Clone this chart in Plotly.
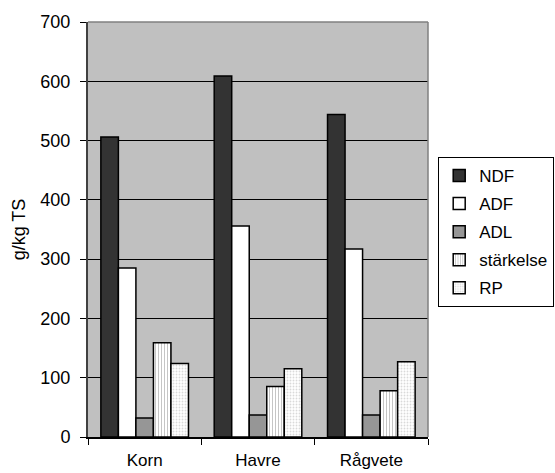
import plotly.graph_objects as go

categories = ["Korn", "Havre", "Rågvete"]
series_names = ["NDF", "ADF", "ADL", "stärkelse", "RP"]
ndf = [506, 609, 544]
adf = [285, 356, 317]
adl = [32, 37, 37]
starkelse = [159, 85, 78]
rp = [124, 115, 127]
y_ticks = [0, 100, 200, 300, 400, 500, 600, 700]

values = [ndf, adf, adl, starkelse, rp]
fills = ["#333333", "#ffffff", "#969696", "#ffffff", "#ffffff"]
patterns = [None, None, None,
            dict(shape="|", fgcolor="#8c8c8c", bgcolor="#ffffff", size=3, solidity=0.35),
            dict(shape=".", fgcolor="#b4b4b4", bgcolor="#ffffff", size=3, solidity=0.3)]

FONT = "Liberation Sans, Arial, sans-serif"

fig = go.Figure()
for name, vals, col, pat in zip(series_names, values, fills, patterns):
    marker = dict(color=col, line=dict(color="#000000", width=1.5))
    if pat is not None:
        marker["pattern"] = pat
    fig.add_trace(go.Bar(x=categories, y=vals, name=name, marker=marker,
                         legendgroup=name))

fig.update_layout(
    width=555, height=473,
    margin=dict(l=88, r=127, t=22, b=36, autoexpand=False),
    paper_bgcolor="#ffffff",
    plot_bgcolor="#c0c0c0",
    barmode="group",
    bargap=0.227,
    bargroupgap=0,
    font=dict(family=FONT, size=18, color="#000000"),
    legend=dict(
        x=1.03, xanchor="left", y=0.675, yanchor="top",
        bgcolor="#ffffff", bordercolor="#000000", borderwidth=1,
        font=dict(family=FONT, size=17, color="#000000"),
        traceorder="grouped", tracegroupgap=3,
    ),
    showlegend=True,
)

fig.update_xaxes(
    type="category",
    tickson="boundaries",
    ticks="outside", ticklen=6, tickcolor="#000000", tickwidth=1,
    showline=True, linecolor="#000000", linewidth=1.5,
    showgrid=False,
    ticklabelstandoff=7,
    tickfont=dict(family=FONT, size=17),
)
fig.update_yaxes(
    range=[0, 700],
    tickvals=y_ticks,
    ticks="outside", ticklen=6, tickcolor="#000000", tickwidth=1,
    showline=True, linecolor="#404040", linewidth=2,
    showgrid=True, gridcolor="#000000", gridwidth=1,
    zeroline=False,
    ticklabelstandoff=6,
    tickfont=dict(family=FONT, size=18),
    title=dict(text="g/kg TS", standoff=10, font=dict(family=FONT, size=18)),
)

# plot-area border (top and right, grey)
fig.add_shape(type="line", xref="paper", yref="paper", x0=0, x1=1, y0=1, y1=1,
              line=dict(color="#808080", width=1.5))
fig.add_shape(type="line", xref="paper", yref="paper", x0=1, x1=1, y0=0, y1=1,
              line=dict(color="#808080", width=1.5))

fig.write_html("out.html")
